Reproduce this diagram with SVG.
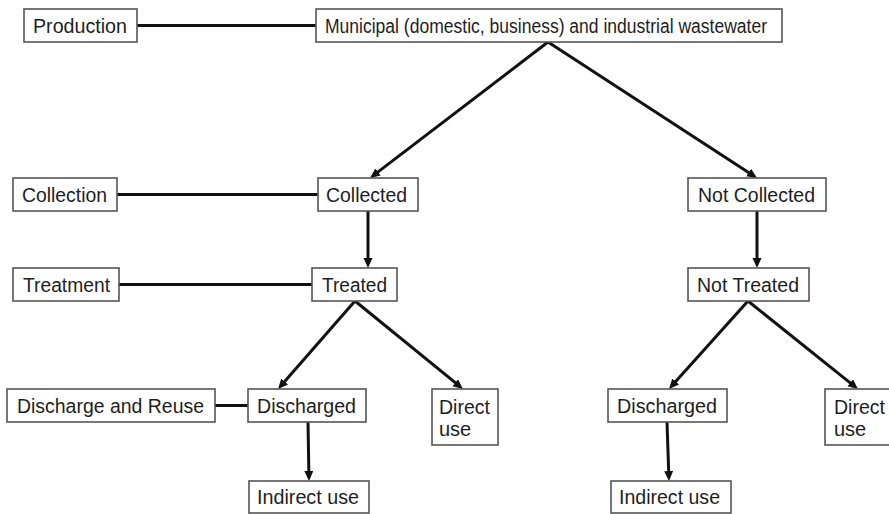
<svg xmlns="http://www.w3.org/2000/svg" width="889" height="514" viewBox="0 0 889 514">
<style>
.box{fill:#fff;stroke:#555;stroke-width:1.6}
.t{font-family:"Liberation Sans",Arial,sans-serif;font-size:20px;fill:#1e1e1e}
.ln{stroke:#111;stroke-width:3;fill:none}
.ar{stroke:#111;stroke-width:3;fill:none;marker-end:url(#ah)}
</style>
<defs>
<marker id="ah" markerUnits="userSpaceOnUse" markerWidth="12" markerHeight="10" refX="4" refY="4.5" orient="auto">
<path d="M0,0 L10,4.5 L0,9 Z" fill="#111"/>
</marker>
</defs>
<rect width="889" height="514" fill="#fff"/>
<g id="connectors">
<line class="ln" x1="137" y1="25.5" x2="316" y2="25.5"/>
<line class="ln" x1="117" y1="194.5" x2="318" y2="194.5"/>
<line class="ln" x1="119" y1="284.5" x2="312" y2="284.5"/>
<line class="ln" x1="215" y1="405.5" x2="248" y2="405.5"/>
<line class="ar" x1="548" y1="42" x2="374.8" y2="174.4"/>
<line class="ar" x1="548" y1="42" x2="752" y2="174.7"/>
<line class="ar" x1="368" y1="211" x2="368" y2="262"/>
<line class="ar" x1="757" y1="211" x2="757" y2="262"/>
<line class="ar" x1="355" y1="301" x2="282" y2="384.5"/>
<line class="ar" x1="355" y1="301" x2="458.3" y2="385.2"/>
<line class="ar" x1="308" y1="422" x2="308.9" y2="475"/>
<line class="ar" x1="748" y1="301" x2="673" y2="384.5"/>
<line class="ar" x1="748" y1="301" x2="853.3" y2="385.3"/>
<line class="ar" x1="667" y1="422" x2="668.8" y2="475"/>
</g>
<g id="production"><rect class="box" x="24" y="9" width="113" height="33"/><text class="t" x="33" y="32.5" textLength="94" lengthAdjust="spacingAndGlyphs">Production</text></g>
<g id="wastewater"><rect class="box" x="316" y="9" width="466" height="33"/><text class="t" x="325" y="32.5" textLength="442" lengthAdjust="spacingAndGlyphs">Municipal (domestic, business) and industrial wastewater</text></g>
<g id="collection"><rect class="box" x="13" y="178" width="104" height="33"/><text class="t" x="22" y="201.5" textLength="85" lengthAdjust="spacingAndGlyphs">Collection</text></g>
<g id="collected"><rect class="box" x="318" y="178" width="100" height="33"/><text class="t" x="326" y="201.5" textLength="81" lengthAdjust="spacingAndGlyphs">Collected</text></g>
<g id="not-collected"><rect class="box" x="688" y="178" width="138" height="33"/><text class="t" x="698" y="201.5" textLength="117" lengthAdjust="spacingAndGlyphs">Not Collected</text></g>
<g id="treatment"><rect class="box" x="13" y="268" width="106" height="33"/><text class="t" x="23" y="291.5" textLength="87" lengthAdjust="spacingAndGlyphs">Treatment</text></g>
<g id="treated"><rect class="box" x="312" y="268" width="85" height="33"/><text class="t" x="322" y="291.5" textLength="65" lengthAdjust="spacingAndGlyphs">Treated</text></g>
<g id="not-treated"><rect class="box" x="688" y="268" width="121" height="33"/><text class="t" x="697" y="291.5" textLength="102" lengthAdjust="spacingAndGlyphs">Not Treated</text></g>
<g id="discharge-reuse"><rect class="box" x="7" y="389" width="208" height="33"/><text class="t" x="17" y="412.5" textLength="187" lengthAdjust="spacingAndGlyphs">Discharge and Reuse</text></g>
<g id="discharged-left"><rect class="box" x="248" y="389" width="118" height="33"/><text class="t" x="257" y="412.5" textLength="99" lengthAdjust="spacingAndGlyphs">Discharged</text></g>
<g id="direct-left"><rect class="box" x="432" y="389" width="66" height="56"/><text class="t" x="439" y="414" textLength="51" lengthAdjust="spacingAndGlyphs">Direct</text><text class="t" x="439" y="436">use</text></g>
<g id="indirect-left"><rect class="box" x="249" y="481" width="120" height="32"/><text class="t" x="257" y="504" textLength="102" lengthAdjust="spacingAndGlyphs">Indirect use</text></g>
<g id="discharged-right"><rect class="box" x="608" y="389" width="119" height="33"/><text class="t" x="617" y="412.5" textLength="100" lengthAdjust="spacingAndGlyphs">Discharged</text></g>
<g id="direct-right"><rect class="box" x="825" y="389" width="70" height="56"/><text class="t" x="834" y="414" textLength="51" lengthAdjust="spacingAndGlyphs">Direct</text><text class="t" x="834" y="436">use</text></g>
<g id="indirect-right"><rect class="box" x="611" y="481" width="120" height="32"/><text class="t" x="619" y="504" textLength="101" lengthAdjust="spacingAndGlyphs">Indirect use</text></g>
</svg>
